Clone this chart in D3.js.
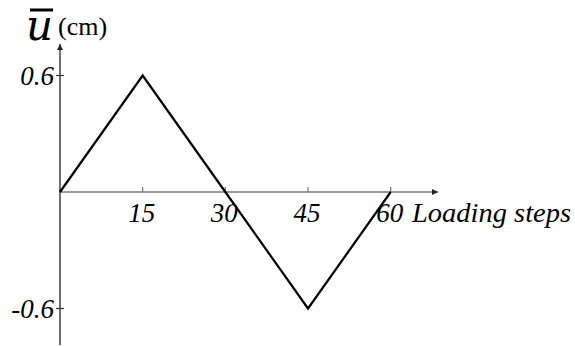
<!DOCTYPE html>
<html>
<head>
<meta charset="utf-8">
<script src="https://cdn.jsdelivr.net/npm/d3@7"></script>
<style>
  body { margin: 0; background: #fff; }
  svg { display: block; }
</style>
</head>
<body>
<svg id="chart" width="575" height="346"></svg>
<script>
// load steps and mean displacement
var steps = [0, 15, 30, 45, 60];
var disp = [0, 0.6, 0, -0.6, 0];
var xTicks = [15, 30, 45, 60];
var yTicks = [0.6, -0.6];

var svg = d3.select("#chart");

var x = d3.scaleLinear().domain([0, 60]).range([60, 390.7]);
var y = d3.scaleLinear().domain([-0.6, 0.6]).range([308.5, 75.5]);

var labelFont = "'Liberation Serif', serif";

// arrow heads
var defs = svg.append("defs");
defs.append("marker")
  .attr("id", "arrGrey")
  .attr("viewBox", "0 0 10 10")
  .attr("refX", 10).attr("refY", 5)
  .attr("markerWidth", 8).attr("markerHeight", 6)
  .attr("markerUnits", "userSpaceOnUse")
  .attr("orient", "auto")
  .append("path").attr("d", "M0,0 L10,5 L0,10 z").attr("fill", "#222");

// x axis
svg.append("line")
  .attr("x1", x(0)).attr("x2", 438)
  .attr("y1", y(0)).attr("y2", y(0))
  .attr("stroke", "#777").attr("stroke-width", 1.6)
  .attr("marker-end", "url(#arrGrey)");

// y axis
svg.append("line")
  .attr("x1", x(0)).attr("x2", x(0))
  .attr("y1", 345).attr("y2", 44)
  .attr("stroke", "#333").attr("stroke-width", 1.4)
  .attr("marker-end", "url(#arrGrey)");

// ticks
svg.selectAll(".xt").data(xTicks).enter().append("line")
  .attr("x1", function(d) { return x(d); }).attr("x2", function(d) { return x(d); })
  .attr("y1", y(0) - 5).attr("y2", y(0))
  .attr("stroke", "#777").attr("stroke-width", 1.2);

svg.selectAll(".yt").data(yTicks).enter().append("line")
  .attr("x1", x(0) - 4).attr("x2", x(0) + 4)
  .attr("y1", function(d) { return y(d); }).attr("y2", function(d) { return y(d); })
  .attr("stroke", "#333").attr("stroke-width", 1.2);

// the displacement path
var line = d3.line()
  .x(function(d, i) { return x(steps[i]); })
  .y(function(d) { return y(d); });

svg.append("path")
  .datum(disp)
  .attr("fill", "none")
  .attr("stroke", "#000")
  .attr("stroke-width", 2.2)
  .attr("stroke-linejoin", "miter")
  .attr("d", line);

// tick labels
svg.selectAll(".xl").data(xTicks).enter().append("text")
  .attr("x", function(d) { return x(d) - 1; })
  .attr("y", 222)
  .attr("text-anchor", "middle")
  .style("font-family", labelFont)
  .style("font-style", "italic")
  .style("font-size", "27px")
  .text(function(d) { return d; });

svg.selectAll(".yl").data(yTicks).enter().append("text")
  .attr("x", 54)
  .attr("y", function(d) { return y(d) + 9; })
  .attr("text-anchor", "end")
  .style("font-family", labelFont)
  .style("font-style", "italic")
  .style("font-size", "27px")
  .text(function(d) { return d; });

svg.append("text")
  .attr("x", 412).attr("y", 222)
  .attr("textLength", 159)
  .attr("lengthAdjust", "spacingAndGlyphs")
  .style("font-family", labelFont)
  .style("font-style", "italic")
  .style("font-size", "28px")
  .text("Loading steps");

// y axis title: u with overbar, then (cm)
svg.append("text")
  .attr("x", 26).attr("y", 40)
  .style("font-family", "'DejaVu Serif', serif")
  .style("font-style", "italic")
  .style("font-size", "42px")
  .text("u");
svg.append("line")
  .attr("x1", 30).attr("x2", 53)
  .attr("y1", 10).attr("y2", 10)
  .attr("stroke", "#000").attr("stroke-width", 3);

svg.append("text")
  .attr("x", 58).attr("y", 35)
  .style("font-family", "'Liberation Serif', serif")
  .style("font-size", "26px")
  .text("(cm)");
</script>
</body>
</html>
